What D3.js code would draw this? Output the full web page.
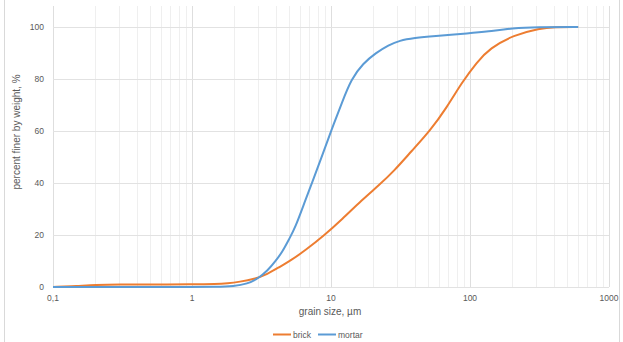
<!DOCTYPE html>
<html><head><meta charset="utf-8">
<script src="https://cdn.jsdelivr.net/npm/d3@7/dist/d3.min.js"></script>
<style>body{margin:0;background:#fff;}svg{display:block;font-family:"Liberation Sans","Open Sans",Arial,sans-serif;}</style>
</head><body>
<svg id="c" width="623" height="342"></svg>
<script>
const brickSize  = [0.1,0.15,0.2,0.3,0.5,1,1.5,1.8,2.2,2.8,3.5,4.2,5.2,6.5,9,12,16.7,22,28.4,38,51.5,68,87,112,139,205,320,400,600];
const brickValue = [0,0.4,0.8,1,1,1,1.1,1.4,2,3,5,7.5,10.4,14,20,26,33.5,39,44.6,52.3,60,69,78.5,86.5,91.8,96.9,99.5,100,100];
const mortarSize  = [0.1,0.2,0.5,1,1.5,2,2.5,3,3.5,4,4.5,5,5.5,6.5,7.3,8.5,10,12,14,17,21,26,31,40,54,100,133,205,300,600];
const mortarValue = [0,0,0,0,0,0.3,1.2,3.3,6.3,10,13.8,18.5,22.5,33,40,49.5,60,71,80,86,90,93,94.8,95.8,96.5,97.6,98.2,99.6,100,100];
const seriesNames = ["brick","mortar"];
const seriesColors = ["#ED7D31","#5B9BD5"];
const xTicks = [0.1,1,10,100,1000];
const xTickLabels = ["0,1","1","10","100","1000"];
const yTicks = [0,20,40,60,80,100];

const svg = d3.select("#c");
const L=53, R=609, T=6, B=287;
const x = d3.scaleLog().domain([0.1,1000]).range([L,R]);
const y = d3.scaleLinear().domain([0,100]).range([B,27]);

// outer frame
svg.append("line").attr("x1",4.5).attr("x2",4.5).attr("y1",0).attr("y2",342).attr("stroke","#d9d9d9");
svg.append("line").attr("x1",619.5).attr("x2",619.5).attr("y1",0).attr("y2",342).attr("stroke","#d9d9d9");

// minor vertical gridlines
const minor = [];
for (let d=0.1; d<1000; d*=10) for (let k=2;k<=9;k++) minor.push(d*k);
svg.append("g").selectAll("line").data(minor).join("line")
  .attr("x1",d=>Math.round(x(d))+0.5).attr("x2",d=>Math.round(x(d))+0.5)
  .attr("y1",T).attr("y2",B).attr("stroke","#efefef").attr("stroke-width",1);
// major vertical
svg.append("g").selectAll("line").data(xTicks).join("line")
  .attr("x1",d=>Math.round(x(d))+0.5).attr("x2",d=>Math.round(x(d))+0.5)
  .attr("y1",T).attr("y2",B).attr("stroke","#dedede").attr("stroke-width",1);
// horizontal gridlines
svg.append("g").selectAll("line").data(yTicks).join("line")
  .attr("x1",L).attr("x2",R).attr("y1",d=>Math.round(y(d))+0.5).attr("y2",d=>Math.round(y(d))+0.5)
  .attr("stroke","#e2e2e2").attr("stroke-width",1);

// y tick labels
svg.append("g").selectAll("text").data(yTicks).join("text")
  .attr("x",44).attr("y",d=>y(d)+3).attr("text-anchor","end")
  .attr("font-size",8.5).attr("fill","#595959").text(d=>d);
// x tick labels
svg.append("g").selectAll("text").data(xTicks).join("text")
  .attr("x",d=>x(d)).attr("y",301).attr("text-anchor","middle")
  .attr("font-size",8.5).attr("fill","#595959").text((d,i)=>xTickLabels[i]);

// axis titles
svg.append("text").attr("x",330).attr("y",315).attr("text-anchor","middle")
  .attr("font-size",10).attr("fill","#595959").text("grain size, µm");
svg.append("text").attr("transform","translate(20,132) rotate(-90)").attr("text-anchor","middle")
  .attr("font-size",10).attr("fill","#595959").text("percent finer by weight, %");

// lines
const line = d3.line().x(d=>x(d[0])).y(d=>y(d[1])).curve(d3.curveBasis);
const data = [d3.zip(brickSize,brickValue), d3.zip(mortarSize,mortarValue)];
svg.append("g").selectAll("path").data(data).join("path")
  .attr("d",line).attr("fill","none")
  .attr("stroke",(d,i)=>seriesColors[i]).attr("stroke-width",2).attr("stroke-linejoin","round");

// legend
const lg = svg.append("g");
const legX = [273,318];
seriesNames.forEach((n,i)=>{
  lg.append("line").attr("x1",legX[i]).attr("x2",legX[i]+18).attr("y1",334.5).attr("y2",334.5)
    .attr("stroke",seriesColors[i]).attr("stroke-width",2);
  lg.append("text").attr("x",legX[i]+20).attr("y",337.5).attr("font-size",8.5).attr("fill","#595959").text(n);
});
</script>
</body></html>
